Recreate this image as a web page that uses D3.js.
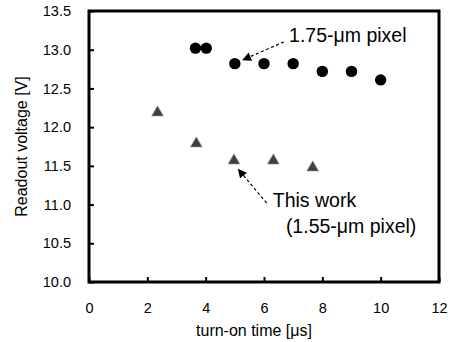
<!DOCTYPE html>
<html><head><meta charset="utf-8">
<script src="https://cdn.jsdelivr.net/npm/d3@7/dist/d3.min.js"></script>
<style>body{margin:0;background:#fff}svg{display:block}text{font-family:"Liberation Sans",Arial,sans-serif;fill:#000}</style>
</head><body>
<script>
// Data
const pixel175X = [3.65, 4.02, 5, 6, 7, 8, 9, 10];
const pixel175Y = [13.02, 13.02, 12.82, 12.82, 12.82, 12.72, 12.72, 12.61];
const thisWorkX = [2.35, 3.68, 4.97, 6.32, 7.67];
const thisWorkY = [12.2, 11.8, 11.58, 11.58, 11.49];
const xTicks = [0, 2, 4, 6, 8, 10, 12];
const yTicks = [10.0, 10.5, 11.0, 11.5, 12.0, 12.5, 13.0, 13.5];

const W = 451, H = 342;
const m = {left: 89, right: 12, top: 11, bottom: 60};
const svg = d3.select("body").append("svg").attr("width", W).attr("height", H);
const x = d3.scaleLinear().domain([0, 12]).range([m.left, W - m.right]);
const y = d3.scaleLinear().domain([10, 13.5]).range([H - m.bottom, m.top]);

svg.append("defs").append("marker").attr("id", "ah").attr("viewBox", "0 0 10 10")
  .attr("refX", 9).attr("refY", 5).attr("markerWidth", 9).attr("markerHeight", 9)
  .attr("markerUnits", "userSpaceOnUse").attr("orient", "auto")
  .append("path").attr("d", "M0,0L10,5L0,10z").attr("fill", "#000");

// Axes
const xAxis = svg.append("g").attr("transform", `translate(0,${y(10)})`)
  .call(d3.axisBottom(x).tickValues(xTicks).tickSizeInner(-5).tickSizeOuter(0).tickPadding(21).tickFormat(d3.format("d")));
const yAxis = svg.append("g").attr("transform", `translate(${x(0)},0)`)
  .call(d3.axisLeft(y).tickValues(yTicks).tickSizeInner(-5).tickSizeOuter(0).tickPadding(18).tickFormat(d3.format(".1f")));
[xAxis, yAxis].forEach(g => {
  g.select(".domain").remove();
  g.selectAll(".tick line").attr("stroke", "#000").attr("stroke-width", 2);
  g.selectAll(".tick text").attr("font-size", 14.5).attr("font-family", "Liberation Sans, Arial, sans-serif");
});
xAxis.selectAll(".tick text").attr("dy", "0.71em");

// Frame
svg.append("rect").attr("x", x(0)).attr("y", y(13.5))
  .attr("width", x(12) - x(0)).attr("height", y(10) - y(13.5))
  .attr("fill", "none").attr("stroke", "#000").attr("stroke-width", 3);

// Axis titles
svg.append("text").attr("x", 254).attr("y", 336)
  .attr("text-anchor", "middle").attr("font-size", 16).text("turn-on time [μs]");
svg.append("text").attr("transform", `translate(27,${(y(10) + y(13.5)) / 2}) rotate(-90)`)
  .attr("text-anchor", "middle").attr("font-size", 16).text("Readout voltage [V]");

// Marks
svg.append("g").selectAll("circle").data(pixel175X.map((d, i) => [d, pixel175Y[i]])).join("circle")
  .attr("cx", d => x(d[0])).attr("cy", d => y(d[1])).attr("r", 5.7).attr("fill", "#000");
const tri = d3.symbol().type(d3.symbolTriangle).size(60);
svg.append("g").selectAll("path").data(thisWorkX.map((d, i) => [d, thisWorkY[i]])).join("path")
  .attr("d", tri).attr("transform", d => `translate(${x(d[0])},${y(d[1]) + 1})`)
  .attr("fill", "#404040").attr("stroke", "#9a9a9a").attr("stroke-width", 0.6);

// Annotations
function arrow(x1, y1, x2, y2) {
  svg.append("line").attr("x1", x(x1)).attr("y1", y(y1)).attr("x2", x(x2)).attr("y2", y(y2))
    .attr("stroke", "#000").attr("stroke-width", 1.2).attr("stroke-dasharray", "3,2.5")
    .attr("marker-end", "url(#ah)");
}
arrow(6.68, 13.1, 5.28, 12.87);
arrow(6.09, 11.02, 5.12, 11.455);
svg.append("text").attr("x", x(6.86)).attr("y", y(13.1)).attr("font-size", 19.5).text("1.75-μm pixel");
svg.append("text").attr("x", x(6.30)).attr("y", y(10.97)).attr("font-size", 19.5).text("This work");
svg.append("text").attr("x", x(6.75)).attr("y", y(10.63)).attr("font-size", 19.5).text("(1.55-μm pixel)");
</script>
</body></html>
